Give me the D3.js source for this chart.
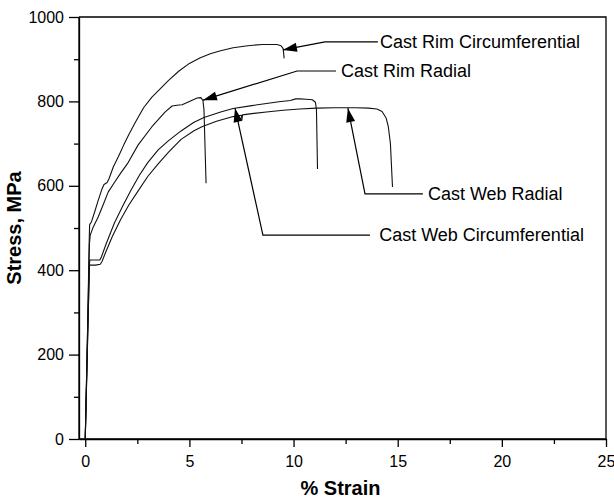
<!DOCTYPE html>
<html>
<head>
<meta charset="utf-8">
<script src="https://cdn.jsdelivr.net/npm/d3@7/dist/d3.min.js"></script>
<style>
  html, body { margin: 0; padding: 0; background: #fff; }
  svg { display: block; }
  text { font-family: "Liberation Sans", Arial, sans-serif; fill: #000; }
</style>
</head>
<body>
<svg id="chart" width="614" height="499"></svg>
<script>
// ---- data (strain %, stress MPa) ----
const rimCirc = [[0,0],[0.1,230],[0.19,470],[0.21,508],[0.3,515],[0.45,538],[0.6,562],[0.8,592],[0.9,603],[1.05,608],[1.15,618],[1.35,645],[1.6,670],[1.85,697],[2.1,722],[2.4,750],[2.8,785],[3.2,810],[3.5,825],[4.0,850],[4.5,872],[5.0,890],[5.5,903],[6.0,913],[6.5,920],[7.1,927],[7.8,932],[8.5,935],[9.2,935],[9.4,932],[9.5,925],[9.55,902]];
const rimRadial = [[0,0],[0.1,230],[0.2,462],[0.24,483],[0.38,502],[0.62,526],[0.86,555],[1.1,585],[1.4,608],[1.7,630],[2.06,655],[2.54,697],[3.2,740],[3.84,775],[4.17,789],[4.4,791],[4.65,792],[5.0,800],[5.37,808],[5.55,809],[5.65,802],[5.7,780],[5.8,606]];
const webCirc = [[0,0],[0.1,210],[0.2,415],[0.22,424],[0.5,424],[0.7,424],[0.78,432],[1.0,462],[1.4,512],[1.8,552],[2.2,590],[2.6,625],[3.0,655],[3.5,685],[4.0,707],[4.6,730],[5.2,750],[5.7,762],[6.5,775],[7.1,783],[8.0,790],[8.7,795],[9.3,799],[9.85,802],[10.1,806],[10.3,806],[10.6,805],[10.9,804],[11.05,798],[11.1,780],[11.15,640]];
const webRadial = [[0,0],[0.1,205],[0.2,410],[0.22,412],[0.5,412],[0.72,414],[0.8,420],[1.0,445],[1.3,480],[1.7,520],[2.1,555],[2.5,585],[3.0,622],[3.5,652],[4.0,680],[4.6,710],[5.2,730],[5.6,740],[6.3,753],[7.1,764],[7.5,767],[7.52,756],[7.55,768],[8.0,771],[8.7,775],[9.5,779],[10.3,782],[11.1,784],[12.0,785],[13.0,785],[13.6,784],[14.0,782],[14.25,776],[14.45,760],[14.55,740],[14.65,700],[14.75,597]];

const seriesNames = ["Cast Rim Circumferential", "Cast Rim Radial", "Cast Web Radial", "Cast Web Circumferential"];
// annotation: arrow tip, elbow, line end, label start (all in data units)
const annTip   = [[9.49,922],[5.65,803],[12.61,784],[7.19,784]];
const annElbow = [[11.51,941],[10.17,872],[13.43,581],[8.53,483]];
const annEnd   = [[14.05,941],[12.04,872],[16.21,581],[13.67,483]];
const annText  = [[14.15,941],[12.28,872],[16.45,581],[14.11,483]];

const xMajorTicks = [0,5,10,15,20,25];
const xMinorTicks = [2.5,7.5,12.5,17.5,22.5];
const yMajorTicks = [0,200,400,600,800,1000];
const yMinorTicks = [100,300,500,700,900];
const xTitle = "% Strain";
const yTitle = "Stress, MPa";

// ---- layout ----
const svg = d3.select("#chart");
const L = 79, R = 606, T = 17, B = 439;
const x = d3.scaleLinear().domain([-0.3, 25]).range([L, R]);
const y = d3.scaleLinear().domain([0, 1000]).range([B, T]);

// frame (top & right)
svg.append("path")
  .attr("d", `M${L},${T}H${R}V${B}`)
  .attr("fill", "none").attr("stroke", "#000").attr("stroke-width", 1.3);

// axes
const gx = svg.append("g").attr("transform", `translate(0,${B})`)
  .call(d3.axisBottom(x).tickValues(xMajorTicks).tickSize(8).tickSizeOuter(0).tickPadding(9).tickFormat(d3.format("d")));
const gxm = svg.append("g").attr("transform", `translate(0,${B})`)
  .call(d3.axisBottom(x).tickValues(xMinorTicks).tickSize(5).tickSizeOuter(0).tickFormat(""));
const gy = svg.append("g").attr("transform", `translate(${L},0)`)
  .call(d3.axisLeft(y).tickValues(yMajorTicks).tickSize(10).tickSizeOuter(0).tickPadding(5).tickFormat(d3.format("d")));
const gym = svg.append("g").attr("transform", `translate(${L},0)`)
  .call(d3.axisLeft(y).tickValues(yMinorTicks).tickSize(5).tickSizeOuter(0).tickFormat(""));
[gx, gxm, gy, gym].forEach(g => {
  g.selectAll("path.domain").attr("stroke", "#000").attr("stroke-width", 1.3);
  g.selectAll(".tick line").attr("stroke", "#000").attr("stroke-width", 1.3);
  g.selectAll("text").style("font-family", '"Liberation Sans", Arial, sans-serif').style("font-size", "16px").attr("fill", "#000");
});
gx.select("path.domain").attr("d", `M${L},0H${R}`);
gy.select("path.domain").attr("d", `M0,${B}V${T}`);

// axis titles
svg.append("text").attr("x", (L + R) / 2 - 2).attr("y", 495)
  .attr("text-anchor", "middle").style("font-weight", "bold").style("font-size", "20px").text(xTitle);
svg.append("text").attr("transform", `translate(21,${(T + B) / 2}) rotate(-90)`)
  .attr("text-anchor", "middle").style("font-weight", "bold").style("font-size", "20px").text(yTitle);

// curves
const line = d3.line().x(d => x(d[0])).y(d => y(d[1]));
[rimCirc, rimRadial, webCirc, webRadial].forEach(s => {
  svg.append("path").datum(s).attr("d", line)
    .attr("fill", "none").attr("stroke", "#111").attr("stroke-width", 1.1).attr("stroke-linejoin", "round");
});

// annotations
seriesNames.forEach((name, i) => {
  const tp = [x(annTip[i][0]), y(annTip[i][1])];
  const el = [x(annElbow[i][0]), y(annElbow[i][1])];
  const en = [x(annEnd[i][0]), y(annEnd[i][1])];
  svg.append("path").attr("d", `M${tp[0]},${tp[1]}L${el[0]},${el[1]}L${en[0]},${en[1]}`)
    .attr("fill", "none").attr("stroke", "#000").attr("stroke-width", 1.2);
  const dx = el[0] - tp[0], dy = el[1] - tp[1];
  const len = Math.hypot(dx, dy), ux = dx / len, uy = dy / len;
  const aL = 14, aW = 4.5;
  const bx = tp[0] + ux * aL, by = tp[1] + uy * aL;
  svg.append("path")
    .attr("d", `M${tp[0]},${tp[1]}L${bx - uy * aW},${by + ux * aW}L${bx + uy * aW},${by - ux * aW}Z`)
    .attr("fill", "#000");
  svg.append("text").attr("x", x(annText[i][0])).attr("y", y(annText[i][1]))
    .attr("dy", "0.35em").style("font-size", "18px").text(name);
});
</script>
</body>
</html>
